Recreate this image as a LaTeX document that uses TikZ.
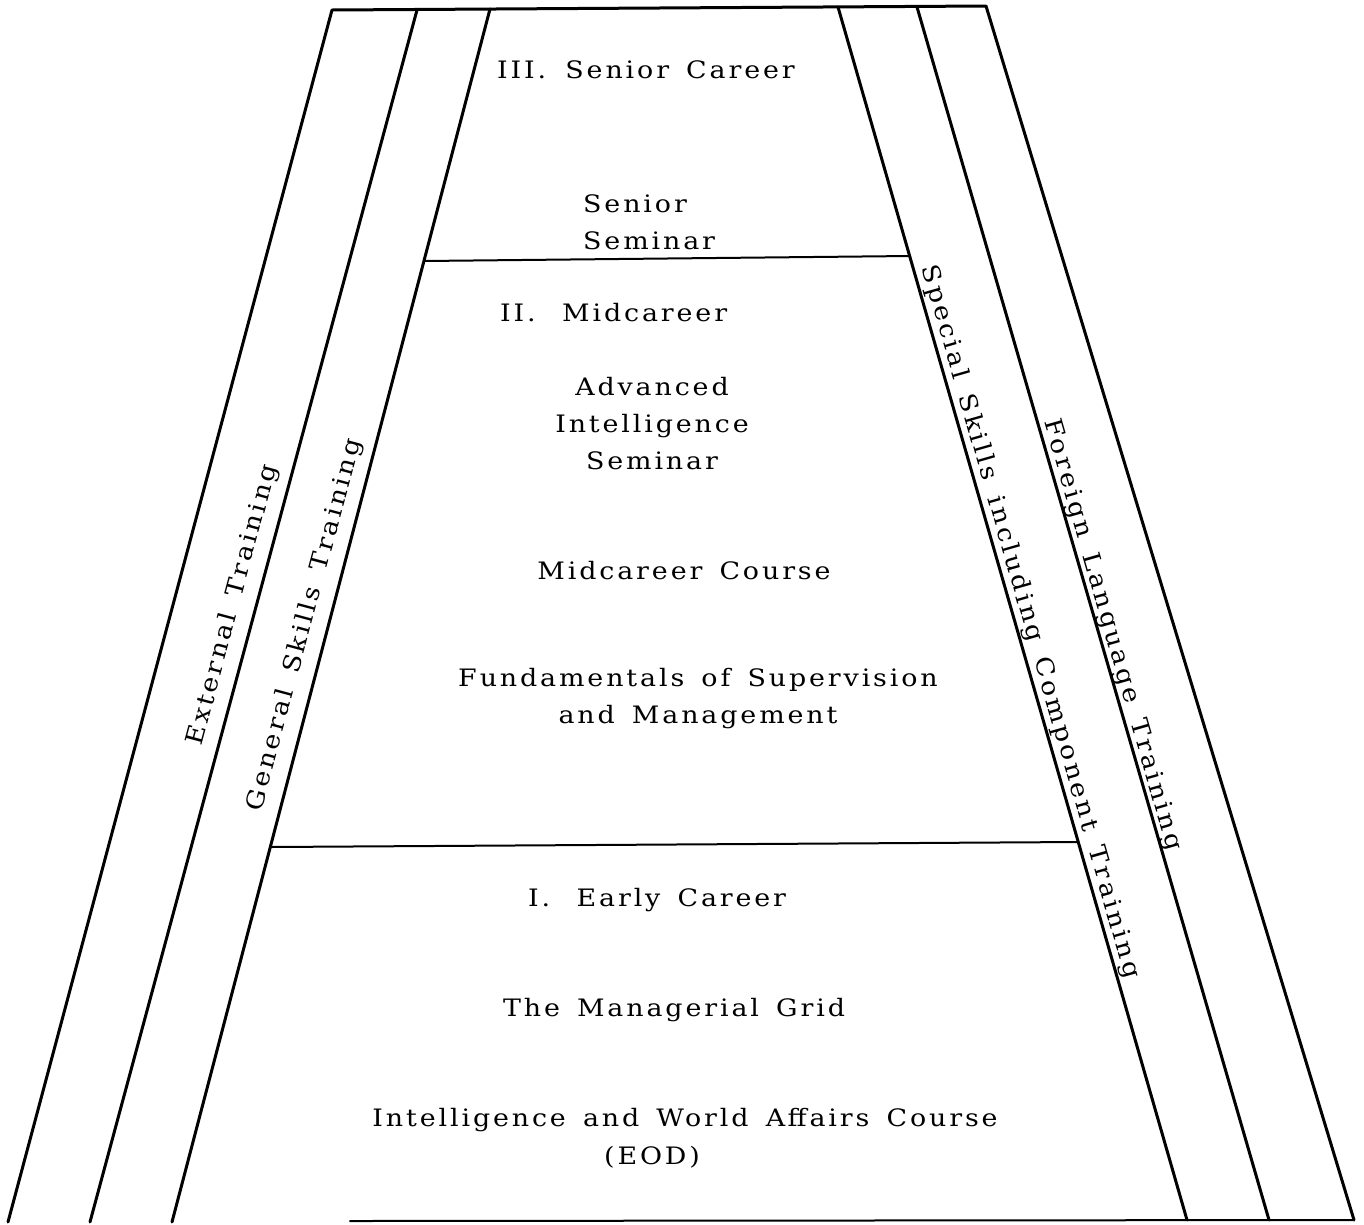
\documentclass[tikz,border=0pt]{standalone}
\usepackage{fontspec}
\setmainfont{DejaVu Serif}[LetterSpace=12, FakeStretch=1.12, WordSpace=1.5]
\begin{document}
\begin{tikzpicture}[x=1pt,y=-1pt,
  ln/.style={line width=3pt, line cap=round, line join=round},
  thin/.style={line width=2pt, line cap=round},
  lbl/.style={font=\fontsize{24}{37}\selectfont, inner sep=0pt, align=center}]
\useasboundingbox (0,0) rectangle (1364,1224);
% frame coordinates
\coordinate (t1) at (332,10);  \coordinate (b1) at (8,1222);
\coordinate (t2) at (417,10);  \coordinate (b2) at (90,1222);
\coordinate (t3) at (490,9);   \coordinate (b3) at (172,1222);
\coordinate (t4) at (838,7);   \coordinate (b4) at (1187,1220);
\coordinate (t5) at (917,7);   \coordinate (b5) at (1269,1220);
\coordinate (t6) at (986,6);   \coordinate (b6) at (1354,1220);
\coordinate (bl) at (350,1221);
\coordinate (h1l) at (424,261); \coordinate (h1r) at (910,256);
\coordinate (h2l) at (270,847); \coordinate (h2r) at (1078,842);
% lines
\draw[ln] (b1) -- (t1) -- (t6) -- (b6);
\draw[ln] (b2) -- (t2);
\draw[ln] (b3) -- (t3);
\draw[ln] (t4) -- (b4);
\draw[ln] (t5) -- (b5);
\draw[thin] (bl) -- (b6);
\draw[thin] (h1l) -- (h1r);
\draw[thin] (h2l) -- (h2r);
% texts
\node[lbl, anchor=west] (n3) at (497,70) {III.\hspace{0.8em}Senior Career};
\node[lbl, align=left, anchor=west] (ss) at (583,222) {Senior\\Seminar};
\node[lbl, anchor=west] (n2) at (500,313) {II.\hspace{1.1em}Midcareer};
\node[lbl] (ais) at (652,424) {Advanced\\Intelligence\\Seminar};
\node[lbl] (mc) at (684,571) {Midcareer Course};
\node[lbl] (fsm) at (698,699) {Fundamentals of Supervision\\and Management};
\node[lbl, anchor=west] (n1) at (528,900) {I.\hspace{1.1em}Early Career};
\node[lbl] (mg) at (674,1010) {The Managerial Grid};
\node[lbl] (iwa) at (685,1120) {Intelligence and World Affairs Course};
\node[lbl] (eod) at (652,1157) {(EOD)};
\node[lbl, rotate=75] (ext) at (233,605) {External Training};
\node[lbl, rotate=75] (gst) at (305,625) {General Skills Training};
\node[lbl, rotate=-74] (sst) at (1030,622) {Special Skills including Component Training};
\node[lbl, rotate=-74] (flt) at (1112,635) {Foreign Language Training};
\end{tikzpicture}
\end{document}
